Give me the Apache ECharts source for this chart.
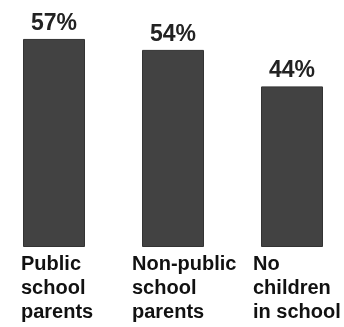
<!DOCTYPE html>
<html>
<head>
<meta charset="utf-8">
<script src="https://cdn.jsdelivr.net/npm/echarts@6/dist/echarts.min.js"></script>
<style>html,body{margin:0;padding:0;background:#fff;}#c{width:344px;height:327px;}</style>
</head>
<body>
<div id="c"></div>
<script>
const categories = ["Public\nschool\nparents", "Non-public\nschool\nparents", "No\nchildren\nin school"];
const values = [57, 54, 44];
const labelShift = [33, 41, 39];

const chart = echarts.init(document.getElementById('c'), null, {renderer: 'canvas'});
const rich = {};
labelShift.forEach((w, i) => {
  rich['c' + i] = {width: w, align: 'left', fontFamily: 'Liberation Sans, Arial, sans-serif', fontWeight: 'bold', fontSize: 20, lineHeight: 24, color: '#111'};
});
chart.setOption({
  animation: false,
  grid: {left: 54, right: 52, top: 28, bottom: 80},
  xAxis: {
    type: 'category',
    data: categories,
    boundaryGap: false,
    axisLine: {show: false},
    axisTick: {show: false},
    axisLabel: {
      interval: 0,
      margin: 5,
      align: 'right',
      verticalAlign: 'top',
      formatter: function (v, i) {
        return v.split('\n').map(s => '{c' + i + '|' + s + '}').join('\n');
      },
      rich: rich
    }
  },
  yAxis: {type: 'value', min: 0, max: 60, show: false, splitLine: {show: false}},
  series: [{
    type: 'bar',
    data: values,
    barWidth: 62,
    itemStyle: {color: '#424242', borderColor: '#333', borderWidth: 1},
    label: {
      show: true,
      position: 'top',
      distance: 4,
      formatter: '{c}%',
      fontFamily: 'Liberation Sans, Arial, sans-serif',
      fontWeight: 'bold',
      fontSize: 23,
      color: '#222'
    }
  }]
});
</script>
</body>
</html>
